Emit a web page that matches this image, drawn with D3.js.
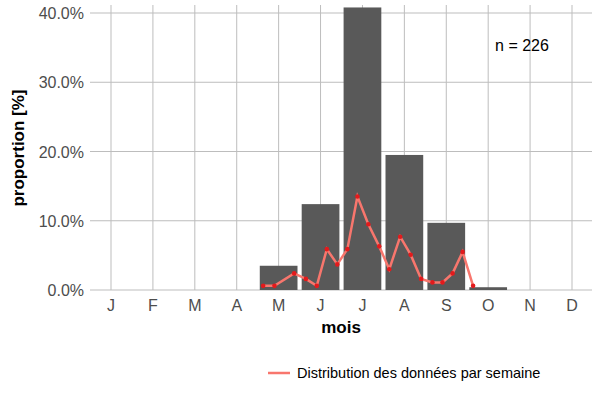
<!DOCTYPE html>
<html><head><meta charset="utf-8">
<script src="https://cdn.jsdelivr.net/npm/d3@7"></script>
<style>body{margin:0;background:#fff}text{font-family:Arial,"Liberation Sans",sans-serif}</style>
</head><body>
<script>
const months = ['J','F','M','A','M','J','J','A','S','O','N','D'];
const monthPct = [0,0,0,0,3.5,12.4,40.8,19.5,9.7,0.4,0,0];
const weekPos = [4.63,4.90,5.37,5.65,5.91,6.15,6.40,6.64,6.88,7.14,7.40,7.64,7.90,8.15,8.40,8.67,8.91,9.15,9.39,9.64];
const weekPct = [0.6,0.6,2.4,1.6,0.6,5.9,3.7,5.9,13.5,9.5,6.3,3.0,7.7,5.1,1.6,1.1,1.1,2.4,5.5,0.6];
const yTicks = [0,10,20,30,40];

const svg = d3.select('body').append('svg').attr('width',600).attr('height',400);
const x = d3.scaleLinear().domain([1,12]).range([111,572]);
const y = d3.scaleLinear().domain([0,40]).range([290,13]);
const g = svg.append('g');

// grid
g.selectAll('.gy').data(yTicks).join('line')
  .attr('x1',90).attr('x2',592).attr('y1',d=>y(d)).attr('y2',d=>y(d))
  .attr('stroke','#bdbdbd').attr('stroke-width',1);
g.selectAll('.gx').data(months).join('line')
  .attr('x1',(d,i)=>x(i+1)).attr('x2',(d,i)=>x(i+1)).attr('y1',5).attr('y2',290)
  .attr('stroke','#bdbdbd').attr('stroke-width',1);

// bars
const bw = (x(2)-x(1))*0.9;
g.selectAll('.bar').data(monthPct).join('rect')
  .attr('x',(d,i)=>x(i+1)-bw/2).attr('width',bw)
  .attr('y',d=>Math.max(y(d),5)).attr('height',d=>y(0)-Math.max(y(d),5))
  .attr('fill','#595959');

// weekly line
const pts = weekPos.map((p,i)=>[p,weekPct[i]]);
g.append('path').datum(pts)
  .attr('d',d3.line().x(d=>x(d[0])).y(d=>y(d[1])))
  .attr('fill','none').attr('stroke','#f8766d').attr('stroke-width',2.5);
g.selectAll('.pt').data(pts).join('circle')
  .attr('cx',d=>x(d[0])).attr('cy',d=>y(d[1])).attr('r',2.3).attr('fill','#e31a1c');

// axes labels
g.selectAll('.yl').data(yTicks).join('text')
  .attr('x',84).attr('y',d=>y(d)+6).attr('text-anchor','end')
  .attr('font-size',16).attr('fill','#4d4d4d').text(d=>d.toFixed(1)+'%');
g.selectAll('.xl').data(months).join('text')
  .attr('x',(d,i)=>x(i+1)).attr('y',311).attr('text-anchor','middle')
  .attr('font-size',16).attr('fill','#4d4d4d').text(d=>d);
svg.append('text').attr('x',341).attr('y',333).attr('text-anchor','middle')
  .attr('font-size',17).attr('font-weight','bold').text('mois');
svg.append('text').attr('transform','translate(24,148) rotate(-90)').attr('text-anchor','middle')
  .attr('font-size',17).attr('font-weight','bold').text('proportion [%]');
svg.append('text').attr('x',522).attr('y',51).attr('text-anchor','middle')
  .attr('font-size',16).text('n = 226');

// legend
svg.append('line').attr('x1',268).attr('x2',290).attr('y1',373).attr('y2',373)
  .attr('stroke','#f8766d').attr('stroke-width',2.5);
svg.append('text').attr('x',297).attr('y',378).attr('font-size',14.5).text('Distribution des données par semaine');
</script>
</body></html>
